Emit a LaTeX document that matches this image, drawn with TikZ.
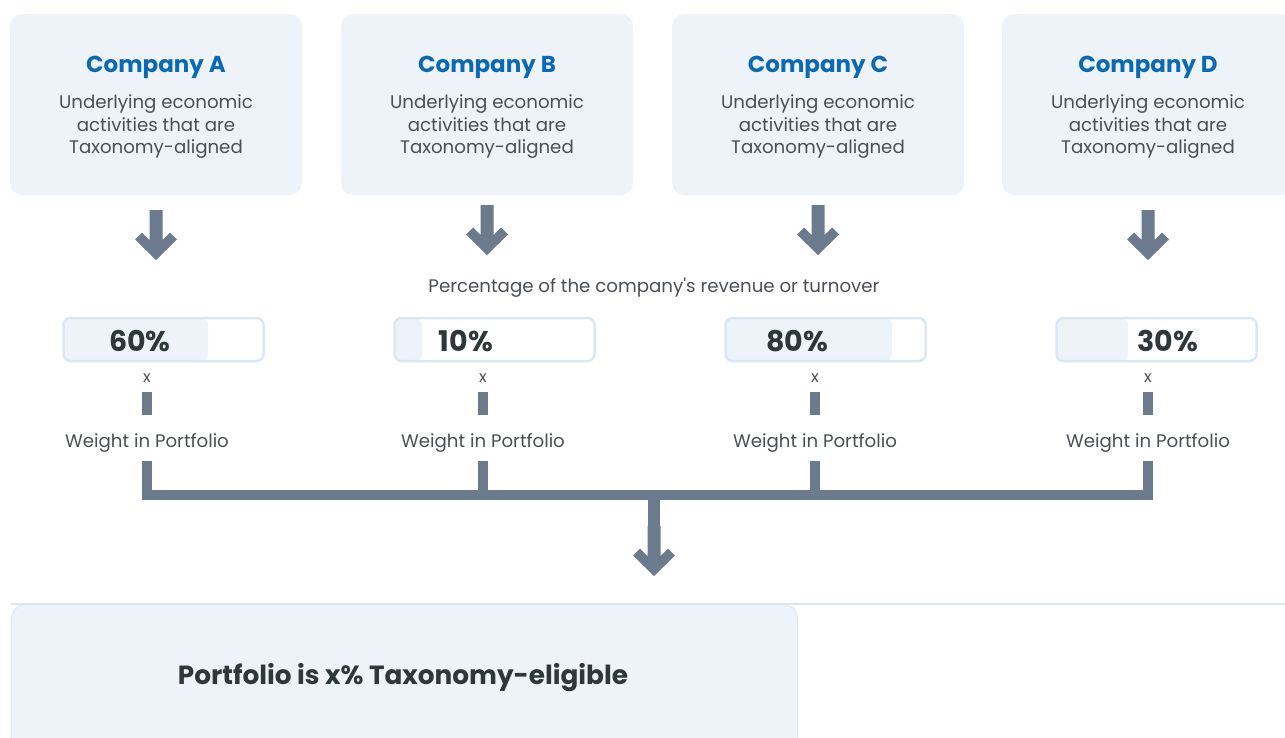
\documentclass[tikz,border=0pt]{standalone}
\usepackage{fontspec}
\setmainfont{Poppins}[Ligatures=TeXOff]
\definecolor{boxfill}{HTML}{EEF3F9}
\definecolor{boxline}{HTML}{DCE7F3}
\definecolor{arrowgray}{HTML}{6B7A8C}
\definecolor{titleblue}{HTML}{0A69B4}
\definecolor{bodygray}{HTML}{4A4F55}
\definecolor{darktext}{HTML}{2E3838}
\tikzset{
  compbox/.style={fill=boxfill, rounded corners=12pt, minimum width=292pt, minimum height=181pt, inner sep=0pt},
  comptitle/.style={text=titleblue, font=\fontsize{23}{27}\selectfont\bfseries, inner sep=0pt, anchor=base},
  compbody/.style={text=bodygray, font=\fontsize{18.2}{22.4}\selectfont, align=center, inner sep=0pt, anchor=base},
  pctbar/.style={draw=boxline, line width=2.5pt, rounded corners=7pt, minimum width=200pt, minimum height=43pt, inner sep=0pt},
  pctfill/.style={fill=boxfill, rounded corners=6pt},
  pcttext/.style={text=darktext, font=\fontsize{28.5}{32}\selectfont\bfseries, inner sep=0pt, anchor=base},
  restext/.style={text=darktext, font=\fontsize{26.3}{30}\selectfont\bfseries, inner sep=0pt, anchor=base},
  smalltext/.style={text=bodygray, font=\fontsize{18.2}{22}\selectfont, inner sep=0pt, anchor=base},
  xtext/.style={text=bodygray, font=\fontsize{16}{19}\selectfont, inner sep=0pt, anchor=base},
  connector/.style={draw=arrowgray, line width=10.5pt},
  chevron/.pic={\fill[arrowgray] (-6.5,0) -- (6.5,0) -- (6.5,30) -- (14,22.5) -- (21,29.5) -- (0,50) -- (-21,29.5) -- (-14,22.5) -- (-6.5,30) -- cycle;},
  bottombox/.style={fill=boxfill, draw=boxline, line width=1pt, rounded corners=14pt, minimum width=786pt, minimum height=160pt, inner sep=0pt}
}
\begin{document}
\begin{tikzpicture}[x=1pt,y=-1pt]
\useasboundingbox (0,0) rectangle (1285,737);
\clip (0,0) rectangle (1285,737);
% company boxes
\foreach \n/\cx/\ay in {A/156/210, B/487/205, C/818/205, D/1148/210}{
  \node[compbox] (box\n) at (\cx,104.5) {};
  \node[comptitle] (title\n) at (\cx,72.5) {Company \n};
  \node[compbody, anchor=north] (body\n) at (\cx,93) {\strut Underlying economic\\\strut activities that are\\\strut Taxonomy-aligned};
  \pic at (\cx,\ay) {chevron};
}
\node[smalltext] (pcthead) at (654,292) {Percentage of the company's revenue or turnover};
% percentage bars
\foreach \n/\bx/\fe/\tx/\p/\wx in {A/163.5/208/140/60/147, B/494.5/422/466/10/483, C/825.5/892/797/80/815, D/1156.5/1128/1168/30/1148}{
  \fill[pctfill] (\bx-99,318.5) rectangle (\fe,360.5);
  \node[pctbar] (bar\n) at (\bx,339.5) {};
  \node[pcttext] (pct\n) at (\tx,351) {\p\%};
  \node[xtext] (x\n) at (\wx,382) {x};
  \fill[arrowgray] (\wx-5,392) rectangle (\wx+5,415);
  \node[smalltext] (w\n) at (\wx,447) {Weight in Portfolio};
  \coordinate (top\n) at (\wx,461);
  \coordinate (bot\n) at (\wx,495);
}
% bracket
\draw[connector] (topA) -- (botA);
\draw[connector] (topB) -- (botB);
\draw[connector] (topC) -- (botC);
\draw[connector] (topD) -- (botD);
\draw[connector] ([xshift=-5.25pt]botA) -- ([xshift=5.25pt]botD);
\coordinate (mid) at (654,495);
\coordinate (midend) at (654,530);
\draw[arrowgray, line width=12pt] (mid) -- (midend);
\pic at (654,526) {chevron};
% bottom box
\draw[boxline, line width=2pt] (11,604) -- (1285,604);
\node[bottombox, anchor=north west] (result) at (11,604) {};
\node[restext] (resulttext) at (403,684) {Portfolio is x\% Taxonomy-eligible};
\end{tikzpicture}
\end{document}
